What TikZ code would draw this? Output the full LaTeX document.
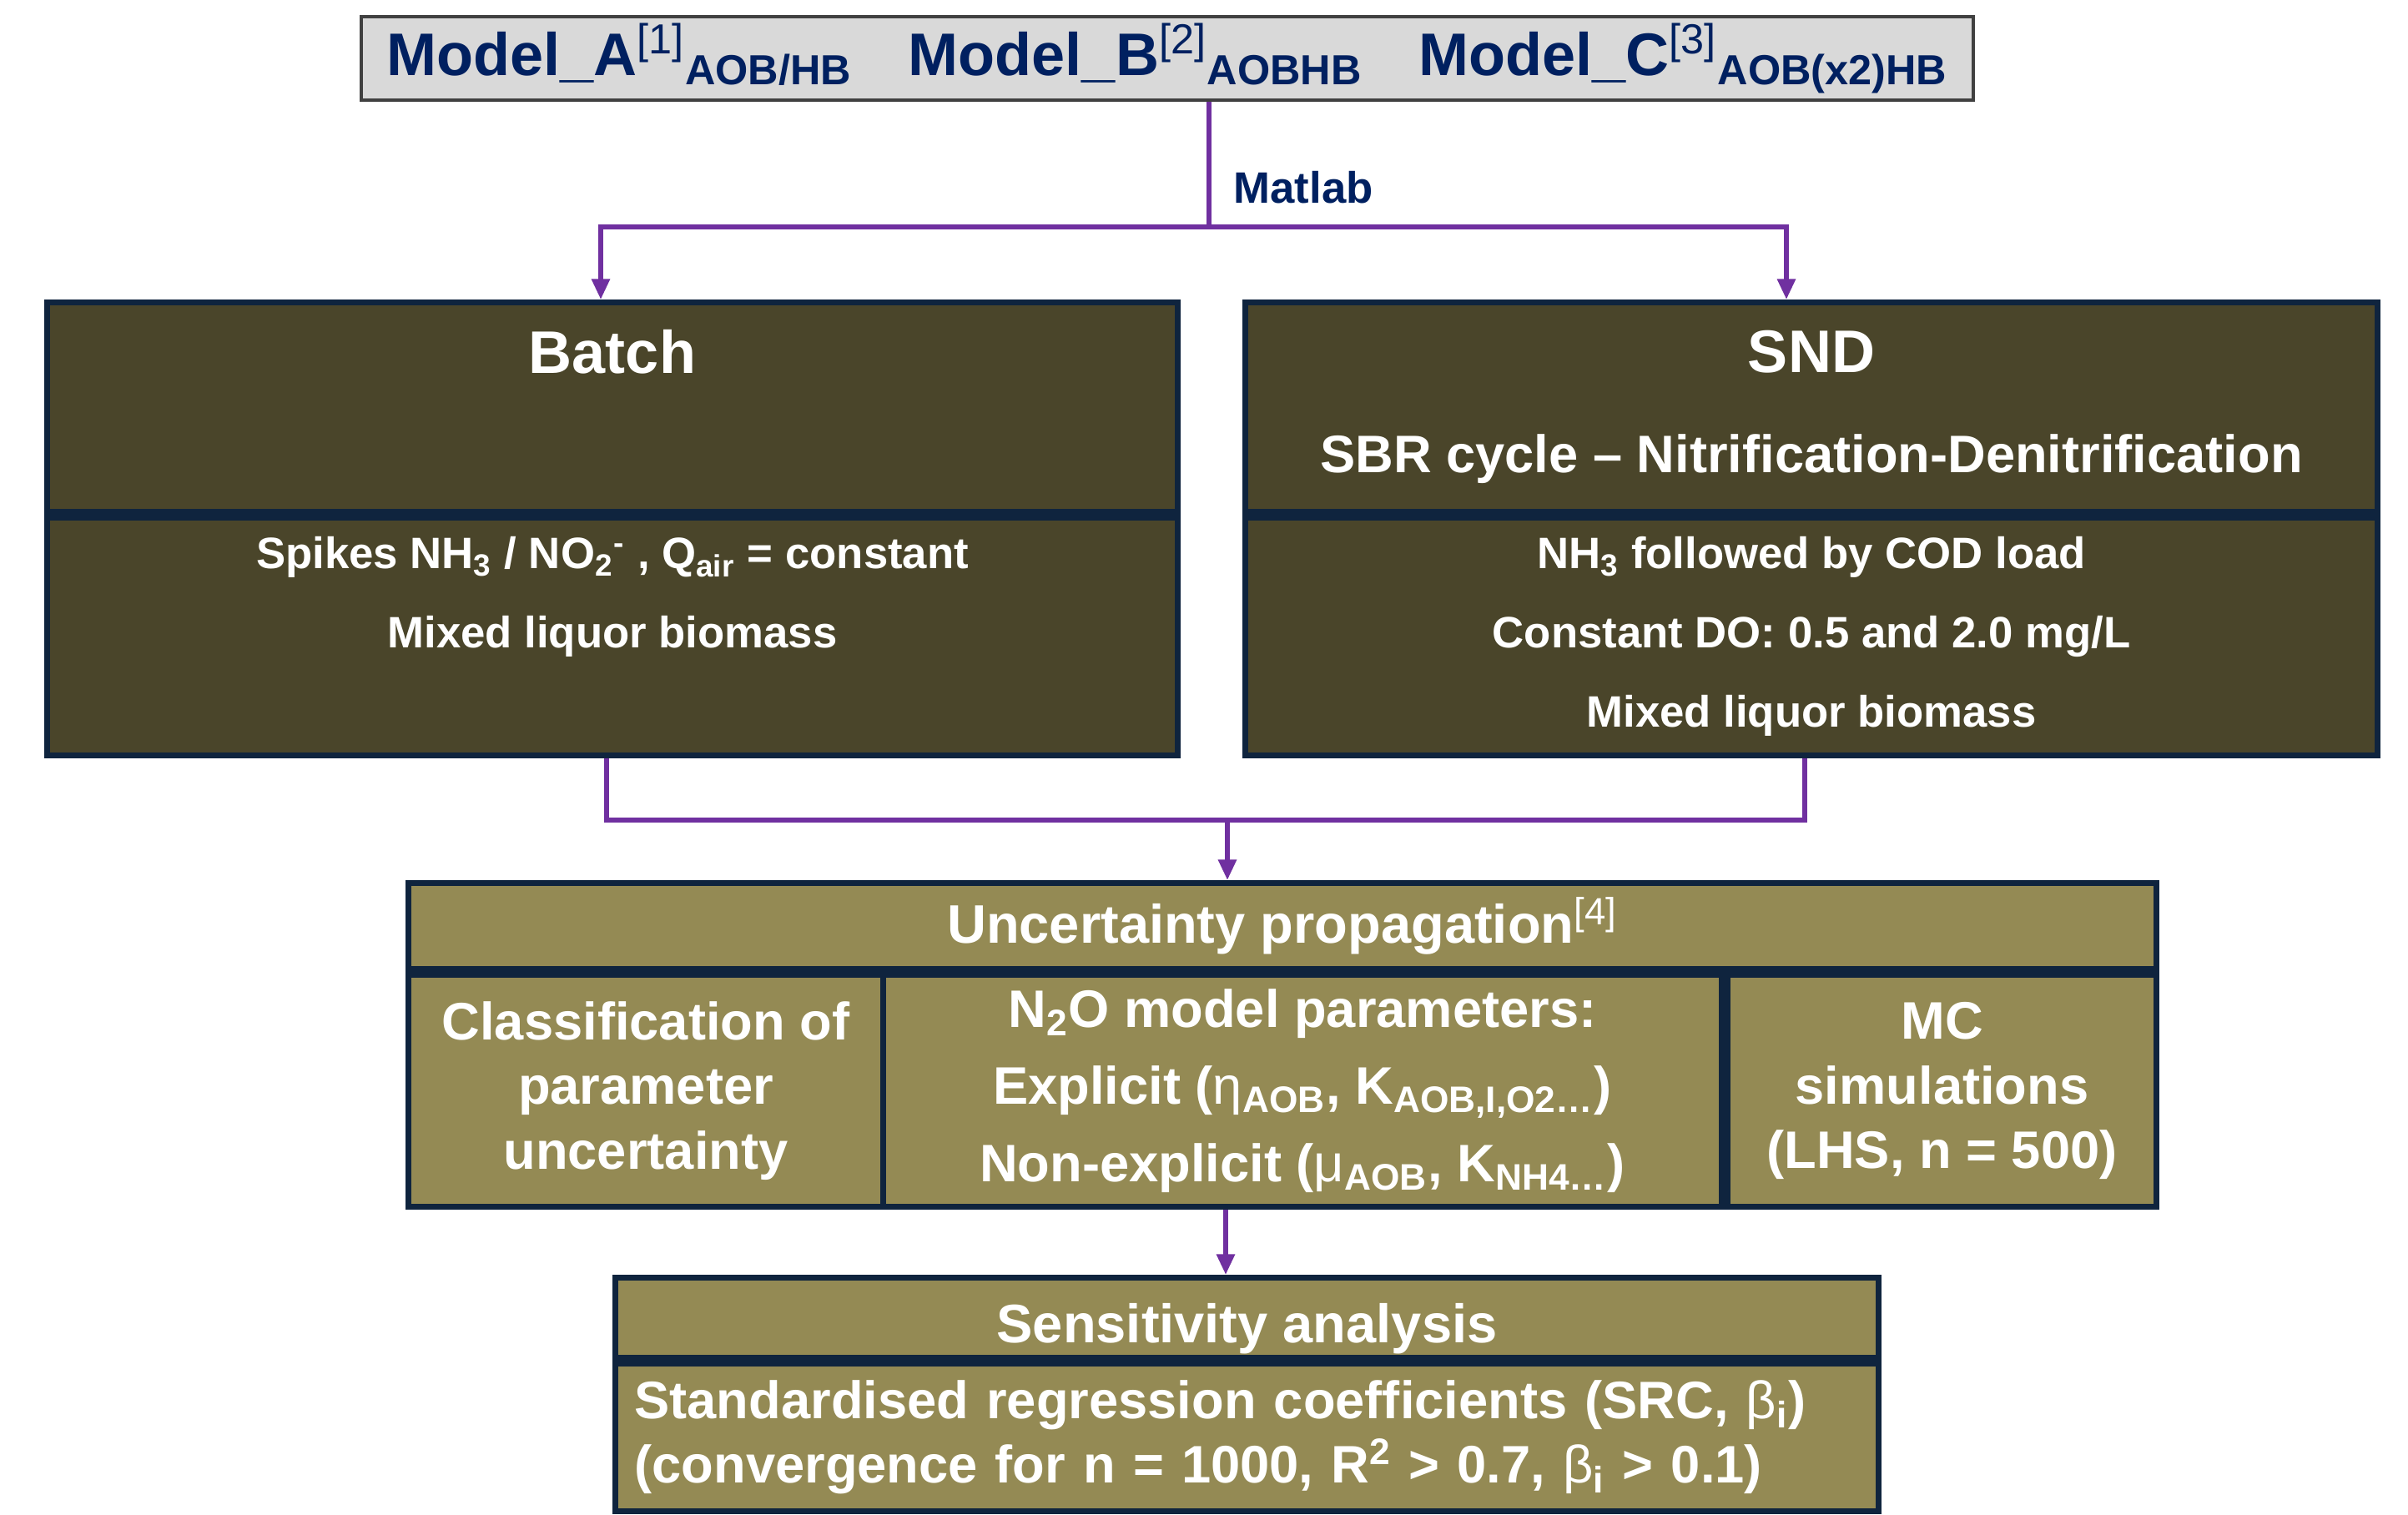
\documentclass[tikz,border=0pt]{standalone}
\usepackage{fontspec}
\setmainfont{Liberation Sans}
\usetikzlibrary{arrows.meta,positioning}

\definecolor{topfill}{HTML}{D9D9D9}
\definecolor{topline}{HTML}{404040}
\definecolor{navytext}{HTML}{002060}
\definecolor{boxline}{HTML}{0F243E}
\definecolor{darkolive}{HTML}{4A452A}
\definecolor{lightolive}{HTML}{948A54}
\definecolor{flowpurple}{HTML}{7030A0}

\newcommand{\sz}[2]{\fontsize{#1}{#2}\selectfont}

\begin{document}
\begin{tikzpicture}[
    every node/.style={font=\bfseries},
    modelbox/.style={draw=topline, fill=topfill, line width=1.4pt, text=navytext, inner sep=0pt},
    darkbox/.style={draw=boxline, fill=darkolive, line width=2pt, text=white, align=center, inner sep=0pt},
    lightbox/.style={draw=boxline, fill=lightolive, line width=2pt, text=white, align=center, inner sep=0pt},
    flow/.style={draw=flowpurple, line width=1.6pt},
    arr/.style={flow, -{Triangle[width=6pt,length=7pt]}}
  ]
  \useasboundingbox (0,0) rectangle (28.86,18.15);

  % models
  \node[modelbox, minimum width=19.32cm, minimum height=1.0cm, font=\bfseries\sz{20.5}{24}] (models) at (13.99,17.45)
    {Model\_A\textsuperscript{\mdseries[1]}\textsubscript{AOB/HB}\hspace{0.67cm}Model\_B\textsuperscript{\mdseries[2]}\textsubscript{AOBHB}\hspace{0.67cm}Model\_C\textsuperscript{\mdseries[3]}\textsubscript{AOB(x2)HB}};

  % batch
  \node[darkbox, anchor=north, minimum width=13.55cm, minimum height=2.51cm, font=\bfseries\sz{20.5}{34}] (batchT) at (7.34,14.56)
    {Batch\\{\sz{18}{34}\phantom{SBR cycle}}};
  \node[darkbox, below=0pt of batchT, minimum width=13.55cm, minimum height=2.85cm, font=\bfseries\sz{15}{27}] (batchB)
    {Spikes NH\textsubscript{3} / NO\textsubscript{2}\textsuperscript{-} , Q\textsubscript{air} = constant\\
     Mixed liquor biomass\\
     \phantom{Mixed liquor biomass}};

  % snd
  \node[darkbox, anchor=north, minimum width=13.57cm, minimum height=2.51cm, font=\bfseries\sz{20.5}{34}] (sndT) at (21.71,14.56)
    {SND\\{\sz{18}{34}SBR cycle -- Nitrification-Denitrification}};
  \node[darkbox, below=0pt of sndT, minimum width=13.57cm, minimum height=2.85cm, font=\bfseries\sz{15}{27}] (sndB)
    {NH\textsubscript{3} followed by COD load\\
     Constant DO: 0.5 and 2.0 mg/L\\
     Mixed liquor biomass};

  % uncertainty
  \node[lightbox, anchor=north, minimum width=20.95cm, minimum height=1.03cm, font=\bfseries\sz{18.5}{22}] (unc) at (15.37,7.60)
    {Uncertainty propagation\textsuperscript{\mdseries[4]}};
  \node[lightbox, below right=0pt and 0pt of unc.south west, minimum width=5.69cm, minimum height=2.78cm, font=\bfseries\sz{18}{22}] (cls)
    {Classification of\\parameter\\uncertainty};
  \node[lightbox, right=-2pt of cls, minimum width=10.05cm, minimum height=2.78cm, font=\bfseries\sz{18}{26.4}] (par)
    {N\textsubscript{2}O model parameters:\\
     Explicit ({\mdseries η}\textsubscript{AOB}, K\textsubscript{AOB,I,O2…})\\
     Non-explicit ({\mdseries μ}\textsubscript{AOB}, K\textsubscript{NH4…})};
  \node[lightbox, right=0pt of par, minimum width=5.14cm, minimum height=2.78cm, font=\bfseries\sz{18}{22}] (mc)
    {MC\\simulations\\(LHS, n = 500)};

  % sensitivity
  \node[lightbox, anchor=north, minimum width=15.14cm, minimum height=0.96cm, text height=0.75cm, text depth=0.15cm,
        font=\bfseries\sz{18.5}{22}] (sens) at (14.945,2.87)
    {Sensitivity analysis};
  \node[lightbox, below=0pt of sens, minimum width=15.14cm, minimum height=1.77cm, text width=14.68cm, align=left,
        inner xsep=0.23cm, font=\bfseries\sz{18}{22}] (sensB)
    {Standardised regression coefficients (SRC, {\mdseries β}\textsubscript{i})\\
     (convergence for n = 1000, R\textsuperscript{2} > 0.7, {\mdseries β}\textsubscript{i} > 0.1)};

  % connectors
  \coordinate (split) at (14.49,15.43);
  \coordinate (toB) at (7.20,15.43);
  \coordinate (toS) at (21.41,15.43);
  \draw[flow] (models.south -| split) -- (split);
  \draw[arr] (split) -- (toB) -- (toB |- batchT.north);
  \draw[arr] (split) -- (toS) -- (toS |- sndT.north);
  \node[anchor=west, inner sep=0pt, text=navytext, font=\bfseries\sz{15}{18}] (matlab) at (14.78,15.90) {Matlab};

  \coordinate (fromB) at (7.27,8.32);
  \coordinate (fromS) at (21.63,8.32);
  \coordinate (merge) at (14.71,8.32);
  \draw[flow] (fromB |- batchB.south) -- (fromB) -- (fromS) -- (fromS |- sndB.south);
  \draw[arr] (merge) -- (merge |- unc.north);

  \coordinate (down) at (14.69,0);
  \draw[arr] (down |- par.south) -- (down |- sens.north);
\end{tikzpicture}
\end{document}
